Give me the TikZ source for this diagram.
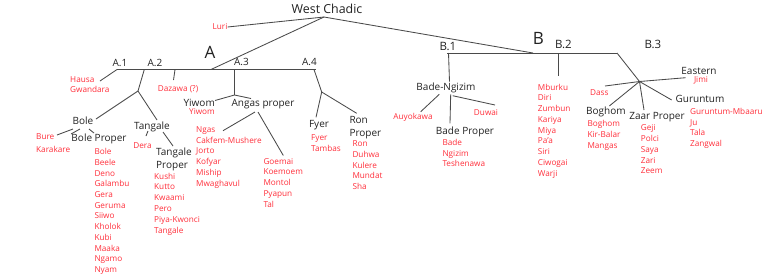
\documentclass[tikz,border=0pt]{standalone}
\usepackage{fontspec}
\setmainfont{Open Sans}
\definecolor{txtred}{HTML}{FF2E3A}
\definecolor{txtdark}{HTML}{222222}
\definecolor{linegray}{HTML}{4A4A4A}
\begin{document}
\begin{tikzpicture}[x=1pt,y=-1pt,
  conn/.style={draw=linegray,line width=0.85pt},
  blk/.style={text=txtdark,inner sep=0pt,font=\fontsize{10}{12.3}\selectfont,align=left},
  bsub/.style={text=txtdark,inner sep=0pt,font=\fontsize{11.5}{13}\selectfont},
  big/.style={text=txtdark,inner sep=0pt,font=\fontsize{17}{20}\selectfont},
  lang/.style={text=txtred,inner sep=0pt,font=\fontsize{8.2}{10.7}\selectfont,align=left},
]
\useasboundingbox (0,0) rectangle (768,277);

% ---- titles
\node[blk,font=\fontsize{12.4}{14}\selectfont] (wc) at (327,9) {West Chadic};
\node[big] (A) at (210,52) {A};
\node[big] (B) at (538.5,38) {B};
\node[blk] (A1) at (120,63) {A.1};
\node[blk] (A2) at (155,63) {A.2};
\node[blk] (A3) at (241.5,62) {A.3};
\node[blk] (A4) at (309.5,62) {A.4};
\node[bsub] (B1) at (448,46) {B.1};
\node[bsub] (B2) at (563.5,44.5) {B.2};
\node[bsub] (B3) at (653,44.5) {B.3};

% ---- A side
\node[lang] (luri) at (220,27) {Luri};
\node[lang,anchor=north west,font=\fontsize{8.2}{10}\selectfont] (hausa) at (70,76) {Hausa\\Gwandara};
\node[lang] (dazawa) at (178,89) {Dazawa (?)};
\node[blk] (bole) at (83,121) {Bole};
\node[lang,anchor=north west,font=\fontsize{8.2}{12.6}\selectfont] (bure) at (36,133.7) {Bure\\Karakare};
\node[blk] (boleprop) at (99,139) {Bole Proper};
\node[lang,anchor=north west] (bolelist) at (94.3,148.3) {Bole\\Beele\\Deno\\Galambu\\Gera\\Geruma\\Siiwo\\Kholok\\Kubi\\Maaka\\Ngamo\\Nyam};
\node[blk] (tangale) at (152,127) {Tangale};
\node[lang] (dera) at (142.5,145.7) {Dera};
\node[blk,anchor=north west] (tangprop) at (156,147.9) {Tangale\\Proper};
\node[lang,anchor=north west,font=\fontsize{8.2}{10.8}\selectfont] (tanglist) at (154,172.7) {Kushi\\Kutto\\Kwaami\\Pero\\Piya-Kwonci\\Tangale};
\node[blk,anchor=east] (yiwom) at (215,103) {Yiwom};
\node[lang] (yiwomr) at (202,112) {Yiwom};
\node[blk] (angas) at (263,104) {Angas proper};
\node[lang,anchor=north west,font=\fontsize{8.2}{10.8}\selectfont] (ngas) at (196,126.3) {Ngas\\Cakfem-Mushere\\Jorto\\Kofyar\\Miship\\Mwaghavul};
\node[lang,anchor=north west,font=\fontsize{8.2}{10.75}\selectfont] (goemai) at (263.3,158) {Goemai\\Koemoem\\Montol\\Pyapun\\Tal};
\node[blk] (fyer) at (319,125) {Fyer};
\node[lang,anchor=north west,font=\fontsize{8.2}{10.6}\selectfont] (fyerlist) at (311,134.7) {Fyer\\Tambas};
\node[blk,anchor=north west,font=\fontsize{10}{12.7}\selectfont] (ron) at (349.3,116.2) {Ron\\Proper};
\node[lang,anchor=north west,font=\fontsize{8.2}{10.85}\selectfont] (ronlist) at (352.3,140.3) {Ron\\Duhwa\\Kulere\\Mundat\\Sha};

% ---- B side
\node[blk] (bade) at (446,88) {Bade-Ngizim};
\node[lang] (auyo) at (413,117) {Auyokawa};
\node[lang] (duwai) at (486,113) {Duwai};
\node[blk] (badeprop) at (465,132) {Bade Proper};
\node[lang,anchor=north west,font=\fontsize{8.2}{10.5}\selectfont] (badelist) at (442.3,139.3) {Bade\\Ngizim\\Teshenawa};
\node[lang,anchor=north west,font=\fontsize{8.2}{10.75}\selectfont] (mburku) at (537.7,83.7) {Mburku\\Diri\\Zumbun\\Kariya\\Miya\\Pa'a\\Siri\\Ciwogai\\Warji};
\node[lang,anchor=west] (dass) at (590,92.3) {Dass};
\node[blk] (eastern) at (699,71) {Eastern};
\node[lang] (jimi) at (701,80) {Jimi};
\node[blk,anchor=west] (boghom) at (586,111.7) {Boghom};
\node[lang,anchor=north west,font=\fontsize{8.2}{10.8}\selectfont] (boghomlist) at (587.3,120.3) {Boghom\\Kir-Balar\\Mangas};
\node[blk] (zaar) at (657,117) {Zaar Proper};
\node[lang,anchor=north west,font=\fontsize{8.2}{10.85}\selectfont] (zaarlist) at (640.7,124.3) {Geji\\Polci\\Saya\\Zari\\Zeem};
\node[blk] (guruntum) at (700,99) {Guruntum};
\node[lang,anchor=north west,font=\fontsize{8.2}{10.6}\selectfont] (gurlist) at (690,108) {Guruntum-Mbaaru\\Ju\\Tala\\Zangwal};

% ---- junction and end coordinates
\coordinate (wcs) at (324,17);
\coordinate (jA) at (211,69.5);
\coordinate (jB) at (533,53);
\coordinate (hAl) at (117,69.5);
\coordinate (hAr) at (316,69.5);
\coordinate (hBl) at (447,53);
\coordinate (hBr) at (617,53);
\coordinate (hausaE) at (100,81);
\coordinate (tA2) at (144.3,69.5);
\coordinate (jA2) at (138,91);
\coordinate (boleE) at (96,119);
\coordinate (tangN) at (157,120);
\coordinate (boleSW) at (73,129);
\coordinate (bureE) at (57,135);
\coordinate (boleS1) at (80,129);
\coordinate (bpA) at (71,134);
\coordinate (boleS2) at (89,129);
\coordinate (bpB) at (94,133);
\coordinate (tangS1) at (148,131);
\coordinate (deraN) at (146,136);
\coordinate (tangS2) at (163,132);
\coordinate (tpN) at (173,146);
\coordinate (tDaz) at (175,69.5);
\coordinate (dazN) at (173.5,80);
\coordinate (tA3) at (234.5,69.5);
\coordinate (jA3) at (234.5,95);
\coordinate (yiwE) at (215,100.5);
\coordinate (angW) at (251,98.5);
\coordinate (angS1) at (255,112);
\coordinate (ngasE) at (223,130.7);
\coordinate (angS2) at (258,112);
\coordinate (goeN) at (283.3,155.5);
\coordinate (tA4) at (314,69.5);
\coordinate (jA4) at (321.7,92);
\coordinate (fyerN) at (316,117.3);
\coordinate (ronN) at (356.7,113.3);
\coordinate (tB1) at (448.5,53);
\coordinate (badeN) at (449.5,81.7);
\coordinate (badeS1) at (439.3,94.3);
\coordinate (auyoN) at (420.7,111.7);
\coordinate (badeS2) at (450.7,94.3);
\coordinate (bpN) at (450,123.3);
\coordinate (badeS3) at (452.7,95.7);
\coordinate (duwaiN) at (495,105);
\coordinate (tB2) at (558.3,53);
\coordinate (mbN) at (558.3,76);
\coordinate (jB3) at (639.5,81.5);
\coordinate (eastW) at (685.7,77.7);
\coordinate (dassE) at (605,86);
\coordinate (boghN) at (609.3,106);
\coordinate (zaarN) at (644,110);
\coordinate (gurW) at (671.7,100);

% ---- connectors
\draw[conn] (wcs) -- (luri.east);
\draw[conn] (wcs) -- (jA);
\draw[conn] (wcs) -- (jB);
\draw[conn] (hAl) -- (hAr);
\draw[conn] (hBl) -- (hBr);
\draw[conn] (hAl) -- (hausaE);
\draw[conn] (tA2) -- (jA2);
\draw[conn] (jA2) -- (boleE);
\draw[conn] (jA2) -- (tangN);
\draw[conn] (boleSW) -- (bureE);
\draw[conn] (boleS1) -- (bpA);
\draw[conn] (boleS2) -- (bpB);
\draw[conn] (tangS1) -- (deraN);
\draw[conn] (tangS2) -- (tpN);
\draw[conn] (tDaz) -- (dazN);
\draw[conn] (tA3) -- (jA3);
\draw[conn] (jA3) -- (yiwE);
\draw[conn] (jA3) -- (angW);
\draw[conn] (angS1) -- (ngasE);
\draw[conn] (angS2) -- (goeN);
\draw[conn] (tA4) -- (jA4);
\draw[conn] (jA4) -- (fyerN);
\draw[conn] (jA4) -- (ronN);
\draw[conn] (tB1) -- (badeN);
\draw[conn] (badeS1) -- (auyoN);
\draw[conn] (badeS2) -- (bpN);
\draw[conn] (badeS3) -- (duwaiN);
\draw[conn] (tB2) -- (mbN);
\draw[conn] (hBr) -- (jB3);
\draw[conn] (jB3) -- (eastW);
\draw[conn] (jB3) -- (dassE);
\draw[conn] (jB3) -- (boghN);
\draw[conn] (jB3) -- (zaarN);
\draw[conn] (jB3) -- (gurW);
\end{tikzpicture}
\end{document}
